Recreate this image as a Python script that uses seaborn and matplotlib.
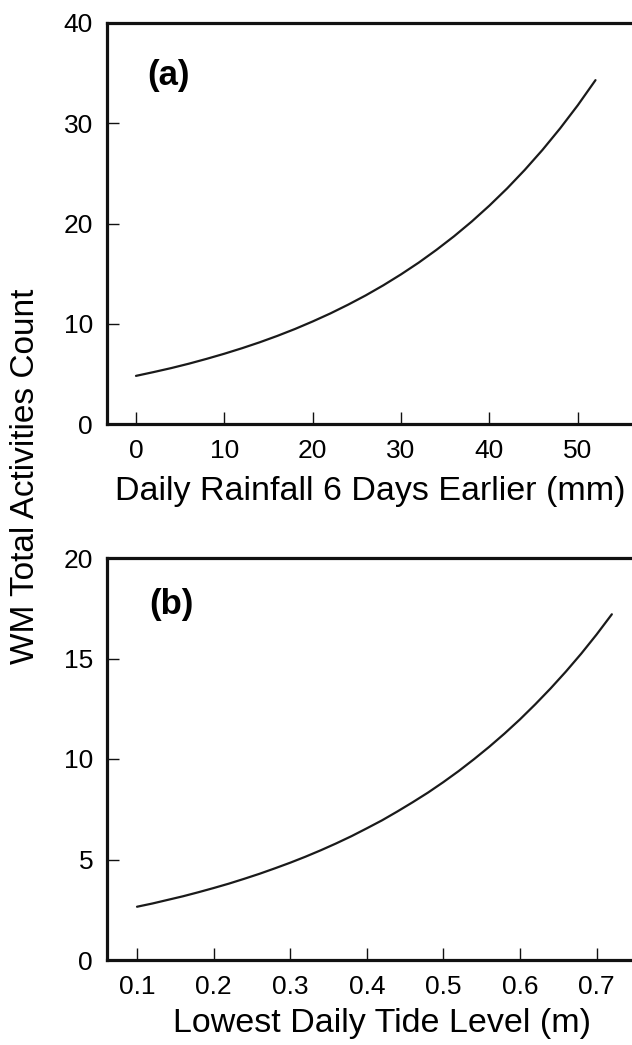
import matplotlib
matplotlib.use("Agg")
import matplotlib.pyplot as plt
import seaborn as sns
import pandas as pd

# Panel (a): rainfall 6 days earlier (mm) vs predicted count
rain_mm = [0, 2, 4, 6, 8, 10, 12, 14, 16, 18, 20, 22, 24, 26,
           28, 30, 32, 34, 36, 38, 40, 42, 44, 46, 48, 50, 52]
count_a = [4.80, 5.18, 5.58, 6.02, 6.50, 7.01, 7.56, 8.15, 8.79, 9.48, 10.23, 11.03, 11.90, 12.83,
           13.84, 14.93, 16.10, 17.37, 18.73, 20.20, 21.79, 23.50, 25.35, 27.34, 29.49, 31.80, 34.30]

# Panel (b): lowest daily tide level (m) vs predicted count
tide_m = [0.10, 0.12, 0.14, 0.16, 0.18, 0.20, 0.22, 0.24, 0.26, 0.28, 0.30, 0.32, 0.34, 0.36, 0.38, 0.40,
          0.42, 0.44, 0.46, 0.48, 0.50, 0.52, 0.54, 0.56, 0.58, 0.60, 0.62, 0.64, 0.66, 0.68, 0.70, 0.72]
count_b = [2.65, 2.81, 2.99, 3.17, 3.37, 3.58, 3.80, 4.04, 4.29, 4.56, 4.84, 5.14, 5.46, 5.80, 6.16, 6.55,
           6.95, 7.39, 7.85, 8.33, 8.85, 9.40, 9.99, 10.61, 11.27, 11.97, 12.72, 13.51, 14.35, 15.24, 16.19, 17.20]

xticks_a = [0, 10, 20, 30, 40, 50]
yticks_a = [0, 10, 20, 30, 40]
xticks_b = [0.1, 0.2, 0.3, 0.4, 0.5, 0.6, 0.7]
yticks_b = [0, 5, 10, 15, 20]

sns.set_style("ticks")
plt.rcParams['font.family'] = ['Liberation Sans', 'DejaVu Sans']
plt.rcParams['text.color'] = 'black'
plt.rcParams['axes.labelcolor'] = 'black'

W, H = 632, 1045
fig = plt.figure(figsize=(W / 100, H / 100), dpi=100)

left = 107 / W
width = 1 - left + 0.01
ax1 = fig.add_axes([left, 1 - 424 / H, width, 401 / H])
ax2 = fig.add_axes([left, 1 - 960 / H, width, 402 / H])

df_a = pd.DataFrame({"x": rain_mm, "y": count_a})
df_b = pd.DataFrame({"x": tide_m, "y": count_b})

sns.lineplot(data=df_a, x="x", y="y", ax=ax1, color="#1a1a1a", linewidth=1.6)
sns.lineplot(data=df_b, x="x", y="y", ax=ax2, color="#1a1a1a", linewidth=1.6)

ax1.set_xlim(-3.28, 52 + (632 + 6.3 - 594) / 9.14)
ax1.set_ylim(0, 40)
ax2.set_xlim(0.0608, 0.7 + (632 + 6.3 - 596.5) / 766)
ax2.set_ylim(0, 20)

ax1.set_xticks(xticks_a)
ax1.set_yticks(yticks_a)
ax2.set_xticks(xticks_b)
ax2.set_yticks(yticks_b)
ax2.set_xticklabels([f"{v:.1f}" for v in xticks_b])

for ax in (ax1, ax2):
    for side in ("left", "bottom", "top"):
        ax.spines[side].set_linewidth(2.3)
        ax.spines[side].set_color("#111111")
    ax.spines["right"].set_visible(False)
    ax.tick_params(direction="in", length=8.5, width=1.0, colors="#111111",
                   labelsize=19, labelcolor="black")
    ax.tick_params(axis="x", pad=10.5)
    ax.tick_params(axis="y", pad=10)
    ax.set_ylabel("")

ax1.set_xlabel("Daily Rainfall 6 Days Earlier (mm)", fontsize=24.5, labelpad=9.5, color="black")
ax2.set_xlabel("Lowest Daily Tide Level (m)", fontsize=24.5, labelpad=7, color="black")
ax1.xaxis.label.set_x(0.495)
ax2.xaxis.label.set_x(0.518)

ax1.text(3.67, 34.8, "(a)", fontsize=25, fontweight="bold", ha="center", va="center", color="black")
ax2.text(0.145, 17.7, "(b)", fontsize=25, fontweight="bold", ha="center", va="center", color="black")

fig.text(26 / W, 1 - 476 / H, "WM Total Activities Count", rotation=90,
         fontsize=24, ha="center", va="center", color="black")

fig.savefig("out.png", dpi=100)
